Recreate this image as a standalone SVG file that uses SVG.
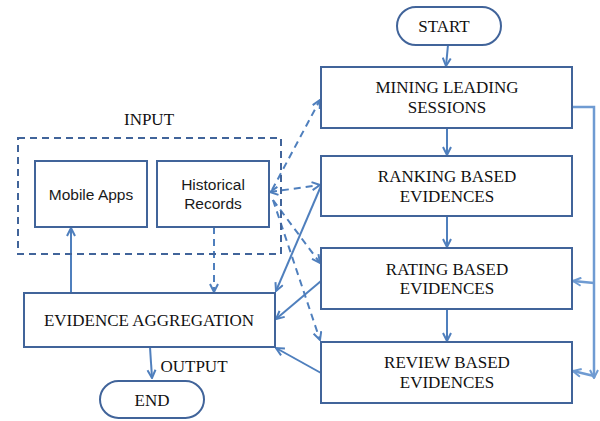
<svg xmlns="http://www.w3.org/2000/svg" width="600" height="421" viewBox="0 0 600 421">
  <defs>
    <style>
      .box { fill: #ffffff; stroke: #41649a; stroke-width: 2; }
      .frame { fill: none; stroke: #41649a; stroke-width: 2; stroke-dasharray: 7 5; }
      .serif { font-family: "Liberation Serif", "Times New Roman", serif; font-size: 17px; fill: #111111; text-anchor: middle; }
      .sans { font-family: "Liberation Sans", Arial, sans-serif; font-size: 15.5px; fill: #1a1a1a; text-anchor: middle; }
      .link { fill: none; stroke: #4f7fbd; stroke-width: 2; }
      .dash { stroke-dasharray: 7 5; }
      .side { stroke: #6f9bd2; stroke-width: 2.5; }
    </style>
    <marker id="arrow" viewBox="0 0 10 10" refX="9" refY="5" markerWidth="10" markerHeight="10" markerUnits="userSpaceOnUse" orient="auto-start-reverse">
      <path d="M1,1 L9,5 L1,9" fill="none" stroke="#4f7fbd" stroke-width="2"/>
    </marker>
    <marker id="arrowSide" viewBox="0 0 10 10" refX="9" refY="5" markerWidth="10" markerHeight="10" markerUnits="userSpaceOnUse" orient="auto">
      <path d="M1,1 L9,5 L1,9" fill="none" stroke="#6f9bd2" stroke-width="2"/>
    </marker>
  </defs>

  <rect width="600" height="421" fill="#ffffff"/>

  <!-- connectors -->
  <g id="connectors">
    <!-- main flow -->
    <path class="link" d="M448,45 L446,66" marker-end="url(#arrow)"/>
    <path class="link" d="M447,128 L447,155" marker-end="url(#arrow)"/>
    <path class="link" d="M447,216 L447,247" marker-end="url(#arrow)" stroke-width="2.5"/>
    <path class="link" d="M447,309 L447,341" marker-end="url(#arrow)"/>
    <!-- side rail from mining to later stages -->
    <path class="link side" d="M573,107 L594,107 L594,378" marker-end="url(#arrowSide)"/>
    <path class="link side" d="M594,283 L573,281" marker-end="url(#arrowSide)"/>
    <path class="link side" d="M594,376 L573,371" marker-end="url(#arrowSide)"/>
    <!-- input links (dashed) -->
    <path class="link dash" d="M272,190 L320,100" marker-end="url(#arrow)"/>
    <path class="link dash" d="M270,192 L320,185" marker-start="url(#arrow)" marker-end="url(#arrow)"/>
    <path class="link dash" d="M273,200 L320,263" marker-end="url(#arrow)"/>
    <path class="link dash" d="M273,200 L320,340" marker-end="url(#arrow)"/>
    <path class="link dash" d="M214,227 L214,292" marker-end="url(#arrow)"/>
    <!-- evidences feeding aggregation -->
    <path class="link" d="M321,186 L276,291" marker-end="url(#arrow)"/>
    <path class="link" d="M321,281 L276,319" marker-end="url(#arrow)"/>
    <path class="link" d="M321,373 L276,348" marker-end="url(#arrow)"/>
    <!-- aggregation back to apps, and to end -->
    <path class="link" d="M71,293 L71,228" marker-end="url(#arrow)"/>
    <path class="link" d="M150,347 L152,378" marker-end="url(#arrow)"/>
  </g>

  <g id="start">
    <rect class="box" x="397" y="7" width="104" height="38" rx="19"/>
    <text class="serif" x="444" y="32">START</text>
  </g>

  <g id="mining">
    <rect class="box" x="321" y="67" width="251" height="61"/>
    <text class="serif" x="447" y="93">MINING LEADING</text>
    <text class="serif" x="447" y="113">SESSIONS</text>
  </g>

  <g id="ranking">
    <rect class="box" x="321" y="156" width="251" height="60"/>
    <text class="serif" x="447" y="182">RANKING BASED</text>
    <text class="serif" x="447" y="202">EVIDENCES</text>
  </g>

  <g id="rating">
    <rect class="box" x="321" y="248" width="251" height="61"/>
    <text class="serif" x="447" y="275">RATING BASED</text>
    <text class="serif" x="447" y="294">EVIDENCES</text>
  </g>

  <g id="review">
    <rect class="box" x="321" y="342" width="251" height="61"/>
    <text class="serif" x="447" y="368">REVIEW BASED</text>
    <text class="serif" x="447" y="388">EVIDENCES</text>
  </g>

  <g id="input">
    <text class="serif" x="149" y="125">INPUT</text>
    <rect class="frame" x="18" y="138" width="263" height="116"/>
  </g>

  <g id="mobile-apps">
    <rect class="box" x="35" y="161" width="112" height="66"/>
    <text class="sans" x="91" y="200">Mobile Apps</text>
  </g>

  <g id="historical-records">
    <rect class="box" x="157" y="161" width="112" height="66"/>
    <text class="sans" x="213" y="190">Historical</text>
    <text class="sans" x="213" y="209">Records</text>
  </g>

  <g id="aggregation">
    <rect class="box" x="24" y="293" width="251" height="54"/>
    <text class="serif" x="149" y="326">EVIDENCE AGGREGATION</text>
  </g>

  <g id="output-label">
    <text class="serif" x="194" y="372">OUTPUT</text>
  </g>

  <g id="end">
    <rect class="box" x="100" y="381" width="104" height="37" rx="18.5"/>
    <text class="serif" x="152" y="406">END</text>
  </g>
</svg>
